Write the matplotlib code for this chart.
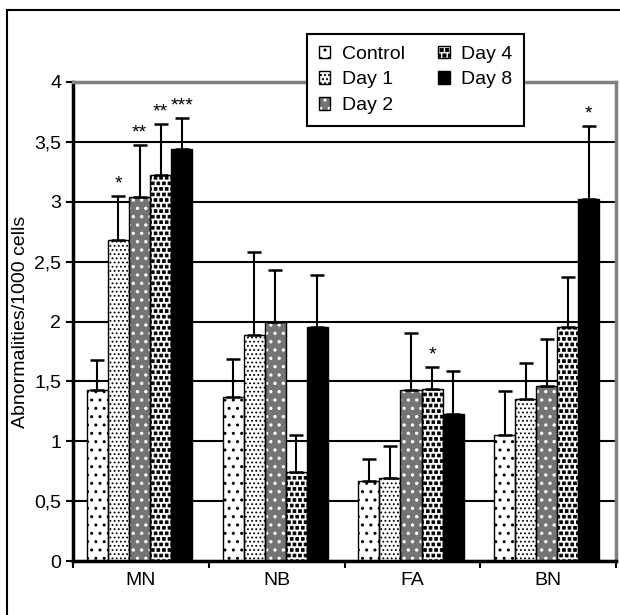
import matplotlib
matplotlib.use("Agg")
import matplotlib.pyplot as plt
import matplotlib.hatch as mhatch
from matplotlib.path import Path
from matplotlib.patches import Rectangle, Patch
import numpy as np

plt.rcParams['font.family'] = ['Liberation Sans', 'DejaVu Sans']


class FilledSquares(mhatch.Shapes):
    size = 0.25
    filled = True

    def __init__(self, hatch, density):
        self.num_rows = hatch.count('*') * density
        self.shape_vertices = np.array([[-1.0, -1.0], [1.0, -1.0], [1.0, 1.0],
                                        [-1.0, 1.0], [-1.0, -1.0]])
        self.shape_codes = np.array([Path.MOVETO, Path.LINETO, Path.LINETO,
                                     Path.LINETO, Path.CLOSEPOLY], dtype=Path.code_type)
        super().__init__(hatch, density)


mhatch._hatch_types = [t for t in mhatch._hatch_types if t is not mhatch.Stars] + [FilledSquares]

categories = ["MN", "NB", "FA", "BN"]
series = ["Control", "Day 1", "Day 2", "Day 4", "Day 8"]
means = {
    "Control": [1.43, 1.37, 0.67, 1.05],
    "Day 1":   [2.68, 1.89, 0.69, 1.35],
    "Day 2":   [3.04, 2.00, 1.43, 1.46],
    "Day 4":   [3.22, 0.74, 1.44, 1.95],
    "Day 8":   [3.44, 1.95, 1.23, 3.02],
}
err_tops = {
    "Control": [1.68, 1.69, 0.85, 1.42],
    "Day 1":   [3.05, 2.58, 0.96, 1.65],
    "Day 2":   [3.47, 2.43, 1.90, 1.85],
    "Day 4":   [3.65, 1.05, 1.62, 2.37],
    "Day 8":   [3.70, 2.39, 1.59, 3.63],
}
stars = {
    "Day 1": ["*", "", "", ""],
    "Day 2": ["**", "", "", ""],
    "Day 4": ["**", "", "*", ""],
    "Day 8": ["***", "", "", "*"],
}
yticks = [0, 0.5, 1, 1.5, 2, 2.5, 3, 3.5, 4]
ytick_labels = ["0", "0,5", "1", "1,5", "2", "2,5", "3", "3,5", "4"]

styles = {
    "Control": dict(face="white", hatch="..", hcolor="black", hlw=1.0),
    "Day 1":   dict(face="white", hatch="....", hcolor="black", hlw=0.8),
    "Day 2":   dict(face="#747474", hatch="..", hcolor="white", hlw=1.2),
    "Day 4":   dict(face="white", hatch="***", hcolor="black", hlw=0.6),
    "Day 8":   dict(face="black", hatch=None, hcolor="black", hlw=1.0),
}

fig = plt.figure(figsize=(6.2, 6.15), dpi=100)
ax = fig.add_axes([73/620, 1-561/615, (616-73)/620, (561-82)/615])

x = np.arange(len(categories))
w = 0.155
handles = []
for i, s in enumerate(series):
    st = styles[s]
    pos = x + (i - 2) * w - 0.01
    plt.rcParams['hatch.linewidth'] = st["hlw"]
    ax.bar(pos, means[s], width=w, color=st["face"], hatch=st["hatch"],
           edgecolor=st["hcolor"], linewidth=0, zorder=2)
    ax.bar(pos, means[s], width=w, fill=False, edgecolor="black", linewidth=1.0, zorder=3)
    hf = Patch(facecolor=st["face"], hatch=st["hatch"], edgecolor=st["hcolor"], linewidth=0)
    ho = Patch(fill=False, edgecolor="black", linewidth=1.0)
    handles.append((hf, ho))
    up = np.array(err_tops[s]) - np.array(means[s])
    ax.errorbar(pos, means[s], yerr=[np.zeros_like(up), up], fmt="none",
                ecolor="black", elinewidth=1.5, capsize=5, capthick=1.8, zorder=4)
    if s in stars:
        for j, t in enumerate(stars[s]):
            if t:
                ax.text(pos[j], err_tops[s][j] + 0.03, t, ha="center", va="bottom",
                        fontsize=14, zorder=5)

ax.set_xlim(-0.5, 3.5)
ax.set_ylim(0, 4)
ax.set_yticks(yticks)
ax.set_yticklabels(ytick_labels, fontsize=14)
ax.set_xticks(x)
ax.set_xticklabels(categories, fontsize=14)
ax.set_xticks(np.arange(-0.5, 4.0, 1.0), minor=True)
ax.tick_params(axis="x", which="major", length=0, pad=8)
ax.tick_params(axis="x", which="minor", length=5, width=1.5, direction="out")
ax.tick_params(axis="y", length=5, width=1.5, direction="out")
ax.set_ylabel("Abnormalities/1000 cells", fontsize=14, labelpad=4)
ax.yaxis.grid(True, color="black", linewidth=1.5, zorder=0)
ax.set_axisbelow(True)
ax.spines["left"].set_linewidth(2.5)
ax.spines["bottom"].set_linewidth(2.5)
for sp in ["top", "right"]:
    ax.spines[sp].set_color("#808080")
    ax.spines[sp].set_linewidth(2.5)

leg = fig.legend(handles, series, loc="upper left",
                 bbox_to_anchor=(307/620, 1-34/615), borderaxespad=0, ncol=2, fontsize=14,
                 frameon=True, fancybox=False, edgecolor="black", framealpha=1,
                 handlelength=0.6, handleheight=0.6, handletextpad=0.6,
                 columnspacing=1.7, labelspacing=0.45, borderpad=0.6)
leg.get_frame().set_linewidth(1.5)
leg.set_zorder(10)

fig.patches.append(Rectangle((7/620, -0.1), 1.2, 1 - 10/615 + 0.1, transform=fig.transFigure,
                             fill=False, edgecolor="black", linewidth=1.5))

fig.savefig("out.png", dpi=100)
